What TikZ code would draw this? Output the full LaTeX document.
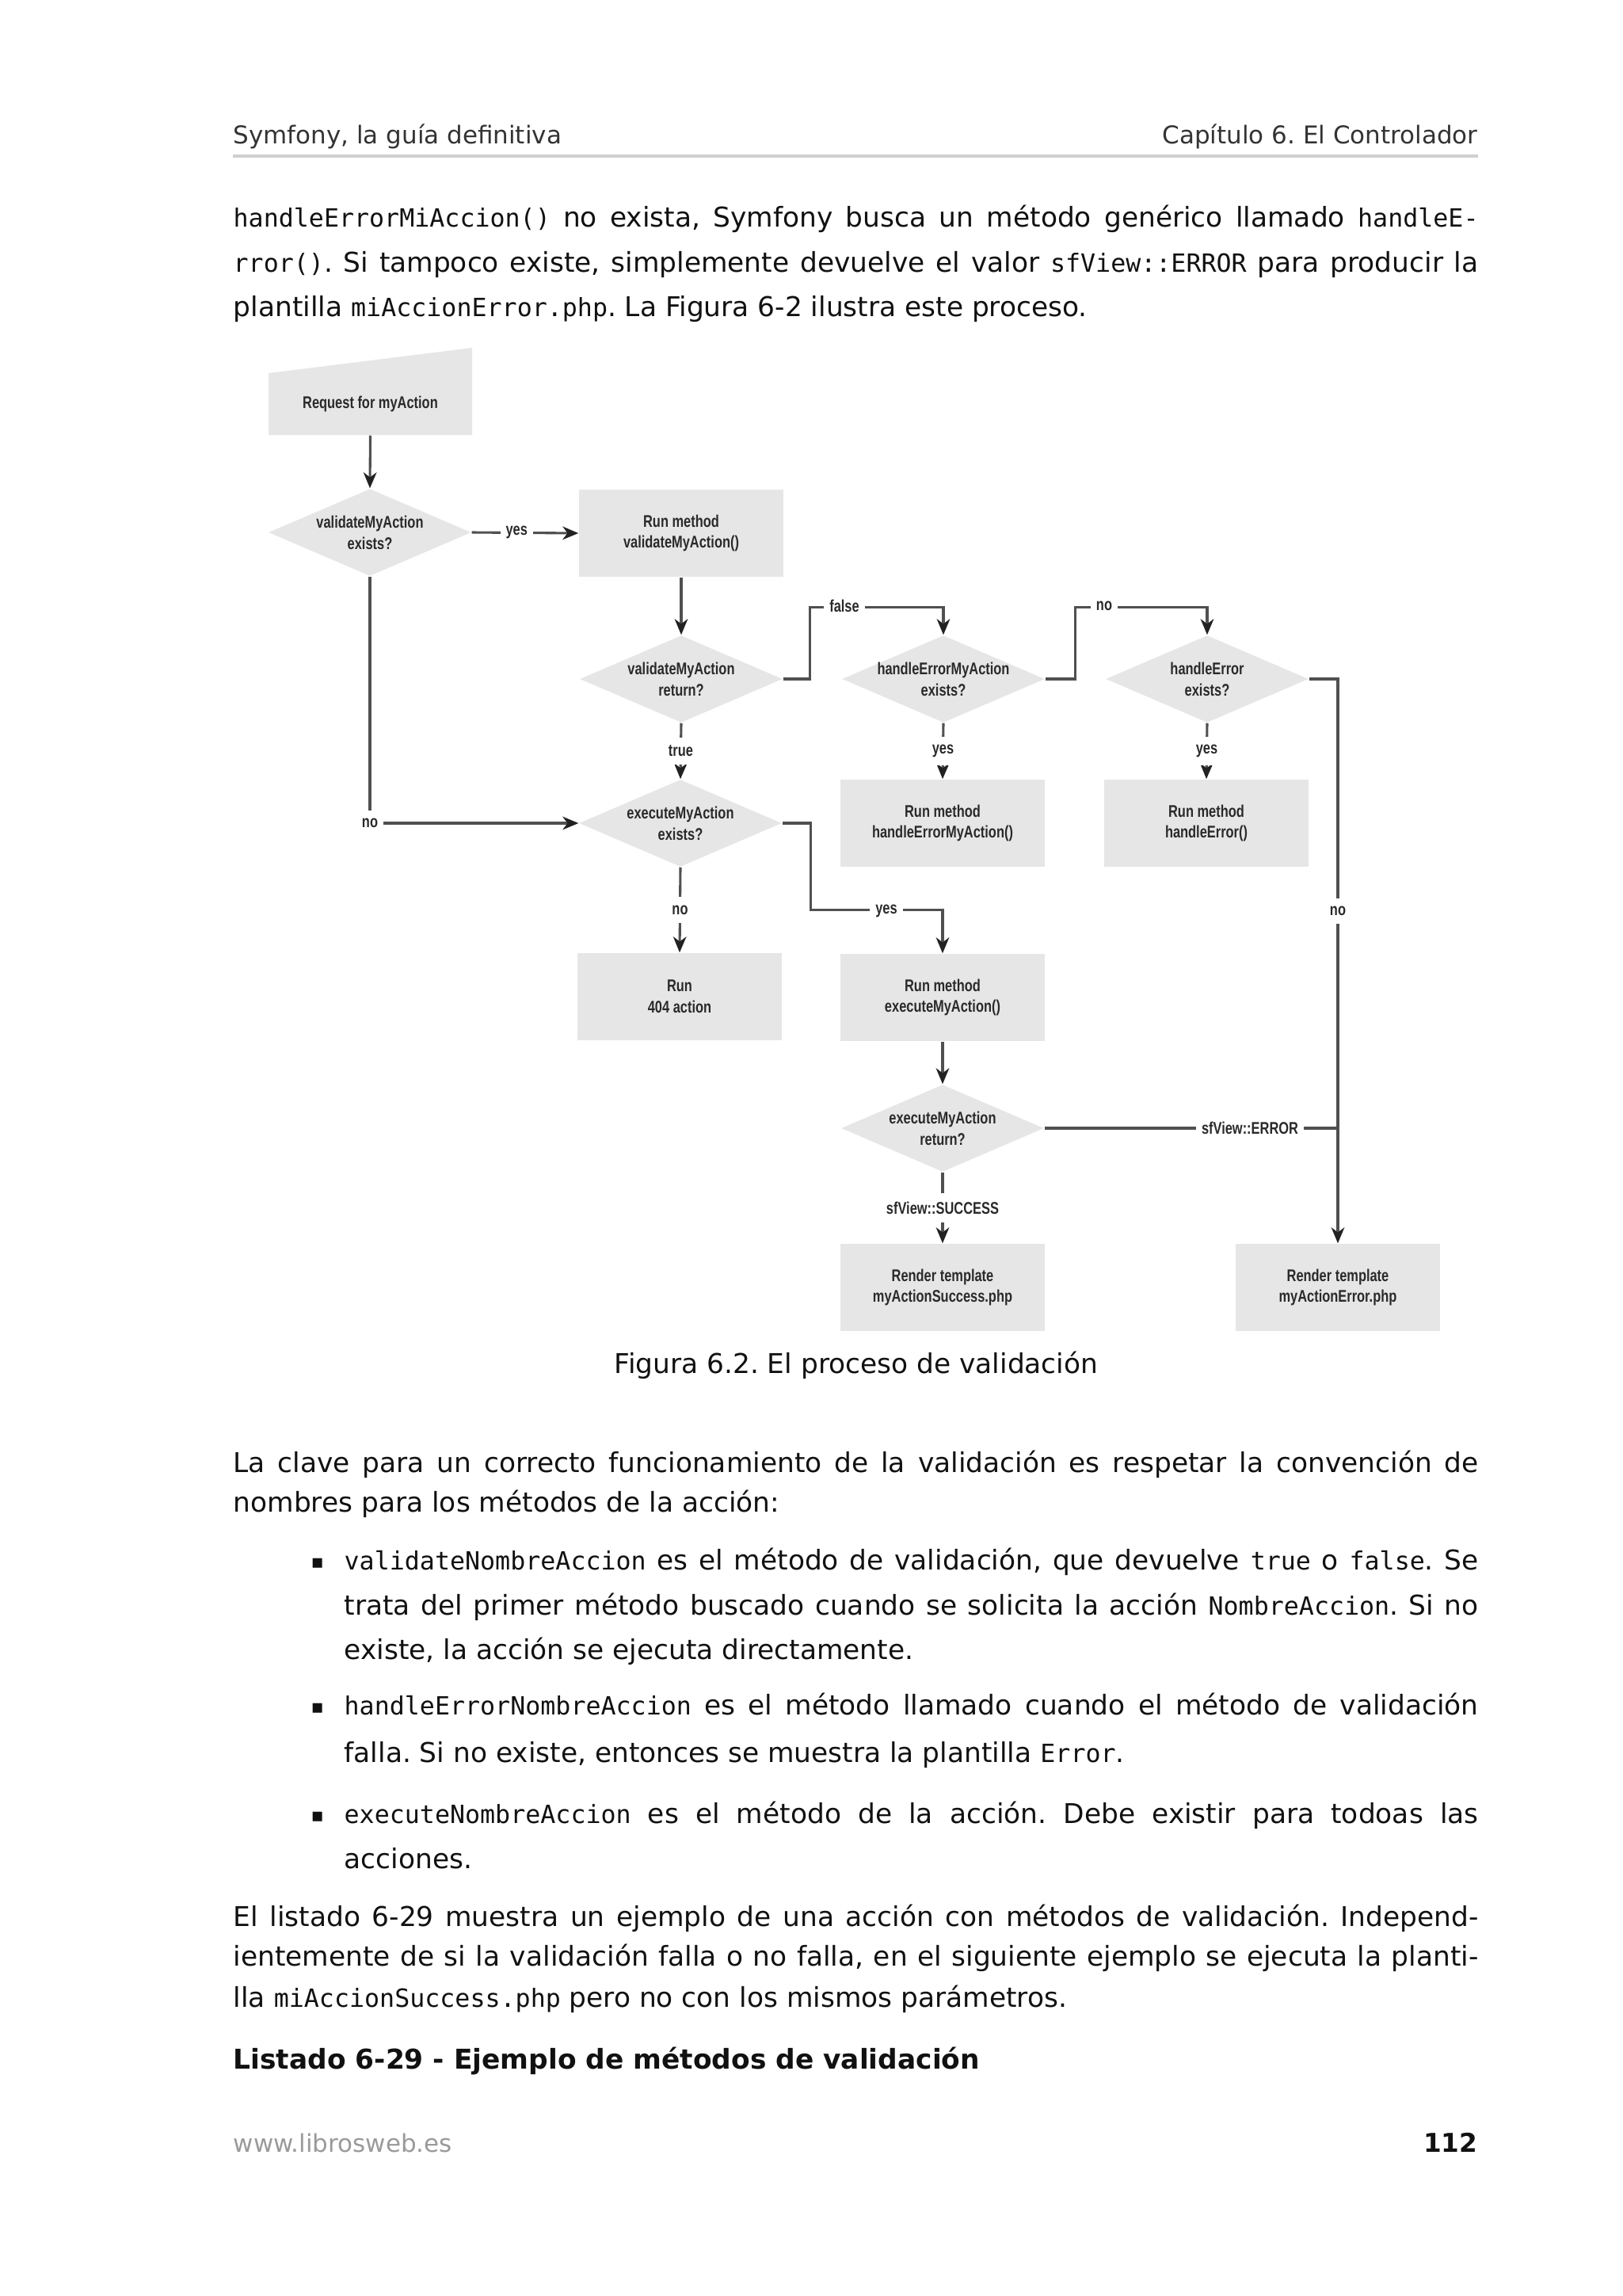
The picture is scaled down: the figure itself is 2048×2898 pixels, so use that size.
\documentclass[tikz,border=0pt]{standalone}
\usepackage{fontspec}
\setmainfont{DejaVu Sans}
\setmonofont{DejaVu Sans Mono}
\newfontfamily\diafont[FakeStretch=0.77]{Liberation Sans}
\usetikzlibrary{arrows.meta,shapes.geometric,calc}
\definecolor{boxgray}{HTML}{E6E6E6}
\definecolor{linegray}{HTML}{505050}
\definecolor{arrowc}{HTML}{222222}
\definecolor{dtext}{HTML}{2A2A2A}
\definecolor{bodytext}{HTML}{111111}
\definecolor{headtext}{HTML}{333333}
\definecolor{rulegray}{HTML}{D0D0D0}
\definecolor{footgray}{HTML}{9A9A9A}
\newcommand\diagfont{\diafont\bfseries\fontsize{6.2pt}{7.8pt}\selectfont}
\newcommand\bodyfnt{\fontsize{10pt}{12pt}\selectfont}
\newcommand\mycode[1]{{\fontsize{9.2pt}{11pt}\ttfamily #1}}
\newcommand\jline[1]{\makebox[456.9pt][s]{#1}}
\newcommand\bline[1]{\makebox[416.2pt][s]{#1}}
\tikzset{
 box/.style={rectangle, fill=boxgray, minimum width=75pt, minimum height=32pt, inner sep=0pt, align=center, font=\diagfont, text=dtext},
 dia/.style={diamond, fill=boxgray, minimum width=74.4pt, minimum height=32pt, inner sep=0pt, aspect=2.33},
 dlab/.style={font=\diagfont, text=dtext, align=center, inner sep=0pt},
 lbl/.style={font=\diagfont, text=dtext, fill=white, inner xsep=2pt, inner ysep=3pt},
 conn/.style={draw=linegray, line width=0.9pt},
 arr/.style={conn, -{Stealth[length=5.8pt,width=4.8pt,inset=1.8pt,color=arrowc]}},
 body/.style={anchor=base west, inner sep=0pt, font=\bodyfnt, text=bodytext},
 bullet/.style={anchor=base west, inner sep=0pt, font=\fontsize{7pt}{8pt}\selectfont, text=bodytext},
}
\begin{document}
\frenchspacing
\begin{tikzpicture}[x=0.29067pt,y=-0.29067pt]
\useasboundingbox (0,0) rectangle (2048,2898);
\fill[white] (0,0) rectangle (2048,2898);

% ---------- header ----------
\node[anchor=base west, inner sep=0pt, font=\fontsize{9pt}{11pt}\selectfont, text=headtext] (hl) at (294,181) {Symfony, la guía definitiva};
\node[anchor=base east, inner sep=0pt, font=\fontsize{9pt}{11pt}\selectfont, text=headtext] (hr) at (1866,181) {Capítulo 6. El Controlador};
\draw[rulegray, line width=0.9pt] (294,197) -- (1866,197);

% ---------- first paragraph ----------
\node[body] (p1a) at (294,286) {\jline{\mycode{handleErrorMiAccion()} no exista, Symfony busca un método genérico llamado \mycode{handleE-}}};
\node[body] (p1b) at (294,343) {\jline{\mycode{rror()}. Si tampoco existe, simplemente devuelve el valor \mycode{sfView::ERROR} para producir la}};
\node[body] (p1c) at (294,399) {plantilla \mycode{miAccionError.php}. La Figura 6-2 ilustra este proceso.};

% ---------- diagram: shapes ----------
\fill[boxgray] (339,471) -- (596,439) -- (596,549) -- (339,549) -- cycle;
\node[inner sep=0pt, minimum width=75pt, minimum height=22.7pt, font=\diagfont, text=dtext] (req) at (467.5,510) {Request for myAction};

\node[dia, label={[dlab]center:validateMyAction\\exists?}] (d1) at (467,672) {};
\node[box] (b1) at (860,673) {Run method\\validateMyAction()};
\node[dia, label={[dlab]center:validateMyAction\\return?}] (d2) at (860,857) {};
\node[dia, label={[dlab]center:handleErrorMyAction\\exists?}] (d3) at (1191,857) {};
\node[dia, label={[dlab]center:handleError\\exists?}] (d4) at (1524,857) {};
\node[dia, label={[dlab]center:executeMyAction\\exists?}] (d5) at (859,1039) {};
\node[box] (bhema) at (1190,1039) {Run method\\handleErrorMyAction()};
\node[box] (bhe) at (1523,1039) {Run method\\handleError()};
\node[box] (b404) at (858,1258) {Run\\404 action};
\node[box] (bexec) at (1190,1259) {Run method\\executeMyAction()};
\node[dia, label={[dlab]center:executeMyAction\\return?}] (d6) at (1190,1424) {};
\node[box] (bsucc) at (1190,1625) {Render template\\myActionSuccess.php};
\node[box] (berr) at (1689,1625) {Render template\\myActionError.php};

% ---------- diagram: connectors ----------
\draw[arr] (req.south) -- (d1.north);
\draw[arr] (d1.east) -- node[lbl, pos=0.42] (lyes1) {yes} (b1.west);
\draw[arr] (b1.south) -- (d2.north);
\draw[arr] (d2.east) -- ++(34,0) |- ($(d3.north)+(0,-35)$) -- (d3.north);
\draw[arr] (d3.east) -- ++(38,0) |- ($(d4.north)+(0,-35)$) -- (d4.north);
\draw[arr] (d4.east) -- (d4.east -| berr.north) -- (berr.north);
\draw[arr] (d2.south) -- node[lbl] (ltrue) {true} (d5.north);
\draw[arr] (d3.south) -- node[lbl] (lyes2) {yes} (bhema.north);
\draw[arr] (d4.south) -- node[lbl] (lyes3) {yes} (bhe.north);
\draw[arr] (d1.south) |- node[lbl, pos=0.5] (lno1) {no} (d5.west);
\draw[arr] (d5.south) -- node[lbl] (lno2) {no} (b404.north);
\draw[arr] (d5.east) -- ++(36,0) |- ($(bexec.north)+(0,-55)$) -- (bexec.north);
\draw[arr] (bexec.south) -- (d6.north);
\draw[arr] (d6.south) -- node[lbl] (lsucc) {sfView::SUCCESS} (bsucc.north);
\draw[conn] (d6.east) -- (d6.east -| berr.north);

\node[lbl] (lfalse) at (1066,765) {false};
\node[lbl] (lno3) at (1394,765) {no};
\node[lbl] (lno4) at (1689,1150) {no};
\node[lbl] (lyes4) at (1119,1150) {yes};
\node[lbl] (lerr) at (1578,1424) {sfView::ERROR};

% ---------- caption ----------
\node[anchor=base, inner sep=0pt, font=\bodyfnt, text=bodytext] (cap) at (1081,1733) {Figura 6.2. El proceso de validación};

% ---------- second paragraph ----------
\node[body] (p2a) at (294,1858) {\jline{La clave para un correcto funcionamiento de la validación es respetar la convención de}};
\node[body] (p2b) at (294,1908) {nombres para los métodos de la acción:};

% ---------- bullets ----------
\node[bullet] (m1) at (392,1979) {▪};
\node[body] (b1a) at (434,1981) {\bline{\mycode{validateNombreAccion} es el método de validación, que devuelve \mycode{true} o \mycode{false}. Se}};
\node[body] (b1b) at (434,2038) {\bline{trata del primer método buscado cuando se solicita la acción \mycode{NombreAccion}. Si no}};
\node[body] (b1c) at (434,2094) {existe, la acción se ejecuta directamente.};

\node[bullet] (m2) at (392,2162) {▪};
\node[body] (b2a) at (434,2164) {\bline{\mycode{handleErrorNombreAccion} es el método llamado cuando el método de validación}};
\node[body] (b2b) at (434,2224) {falla. Si no existe, entonces se muestra la plantilla \mycode{Error}.};

\node[bullet] (m3) at (392,2299) {▪};
\node[body] (b3a) at (434,2301) {\bline{\mycode{executeNombreAccion} es el método de la acción. Debe existir para todoas las}};
\node[body] (b3b) at (434,2358) {acciones.};

% ---------- third paragraph ----------
\node[body] (p3a) at (294,2431) {\jline{El listado 6-29 muestra un ejemplo de una acción con métodos de validación. Independ-}};
\node[body] (p3b) at (294,2481) {\jline{ientemente de si la validación falla o no falla, en el siguiente ejemplo se ejecuta la planti-}};
\node[body] (p3c) at (294,2533) {lla \mycode{miAccionSuccess.php} pero no con los mismos parámetros.};

\node[body, font=\bodyfnt\bfseries] (lst) at (294,2611) {Listado 6-29 - Ejemplo de métodos de validación};

% ---------- footer ----------
\node[anchor=base west, inner sep=0pt, font=\fontsize{9pt}{11pt}\selectfont, text=footgray] (fl) at (294,2716) {www.librosweb.es};
\node[anchor=base east, inner sep=0pt, font=\fontsize{9.5pt}{11pt}\selectfont\bfseries, text=bodytext] (fr) at (1866,2716) {112};
\end{tikzpicture}
\end{document}
